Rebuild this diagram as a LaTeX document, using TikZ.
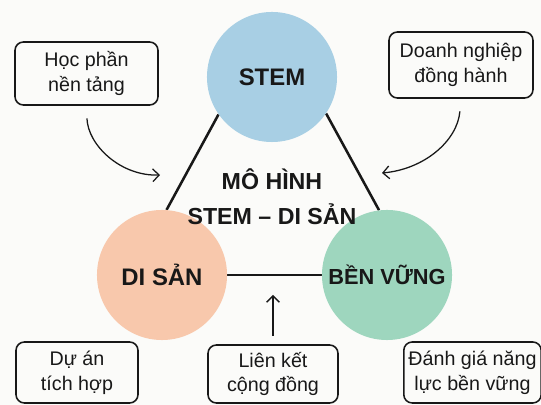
\documentclass[tikz,border=0pt]{standalone}
\usepackage{fontspec}
\setmainfont{Liberation Sans}
\usetikzlibrary{arrows.meta, positioning, calc, backgrounds}
\definecolor{stemBlue}{RGB}{168, 207, 228}
\definecolor{heritagePeach}{RGB}{248, 200, 172}
\definecolor{greenMint}{RGB}{158, 214, 190}
\definecolor{paperBg}{RGB}{251, 251, 249}
\definecolor{inkBlack}{RGB}{24, 24, 24}

\begin{document}
\begin{tikzpicture}[
    x=0.025cm, y=-0.025cm,
    font=\fontsize{14}{17.5}\selectfont,
    % circles of the model
    pillar/.style={
        circle,
        minimum size=3.25cm,
        inner sep=0pt,
        align=center,
        text=inkBlack,
        font=\fontsize{17}{20}\selectfont\bfseries
    },
    % side cards
    card/.style={
        draw=inkBlack,
        line width=1.1pt,
        rounded corners=6pt,
        align=center,
        text=inkBlack
    },
    % triangle edges
    link/.style={
        line width=1.8pt,
        inkBlack
    },
    % thin arrows
    arrow/.style={
        -{Straight Barb[length=1.6mm, width=3.2mm]},
        line width=0.9pt,
        inkBlack
    }
]

    % --- frame ---
    \useasboundingbox (0,0) rectangle (541,405);

    % --- 1. the three circles ---
    \node[pillar, fill=stemBlue] (stem) at (272,77) {STEM};
    \node[pillar, fill=heritagePeach] (disan) at (162,275) {DI SẢN};
    \node[pillar, fill=greenMint, font=\fontsize{15.5}{19}\selectfont\bfseries] (benvung) at (387,275) {BỀN VỮNG};

    % paper and edges behind the circles
    \begin{scope}[on background layer]
        \fill[paperBg] (0,0) rectangle (541,405);
        \draw[link] (stem.215) -- (disan.86);
        \draw[link] (stem.326) -- (benvung.97);
        \draw[link] (disan.east) -- (benvung.west);
    \end{scope}

    % title in the middle
    \node[font=\fontsize{16.5}{25}\selectfont\bfseries, text=inkBlack, align=center] (title) at (272,197) {
        MÔ HÌNH\\
        STEM – DI SẢN
    };

    % --- 2. cards ---
    \node[card, minimum width=3.575cm, minimum height=1.575cm] (hocphan) at (86.5,73.5) {
        Học phần\\
        nền tảng
    };
    \node[card, minimum width=3.6cm, minimum height=1.65cm] (doanhnghiep) at (461,65) {
        Doanh nghiệp\\
        đồng hành
    };
    \node[card, minimum width=3.05cm, minimum height=1.525cm] (duan) at (77,372.5) {
        Dự án\\
        tích hợp
    };
    \node[card, minimum width=3.25cm, minimum height=1.45cm] (lienket) at (273,374) {
        Liên kết\\
        cộng đồng
    };
    \node[card, minimum width=3.225cm, minimum height=1.525cm] (danhgia) at (472.5,372.5) {
        Đánh giá năng\\
        lực bền vững
    };

    % --- 3. arrows into the model ---
    \coordinate (tip_left) at (160,175);
    \coordinate (tip_right) at (382,173);
    \coordinate (tip_bottom) at (273,295);

    \draw[arrow, shorten <=9pt] (hocphan.south) to[out=-88, in=182] (tip_left);
    \draw[arrow, shorten <=9pt] (doanhnghiep.south) to[out=-95, in=5] (tip_right);
    \draw[arrow, shorten <=6pt] (lienket.north) -- (tip_bottom);

\end{tikzpicture}
\end{document}
